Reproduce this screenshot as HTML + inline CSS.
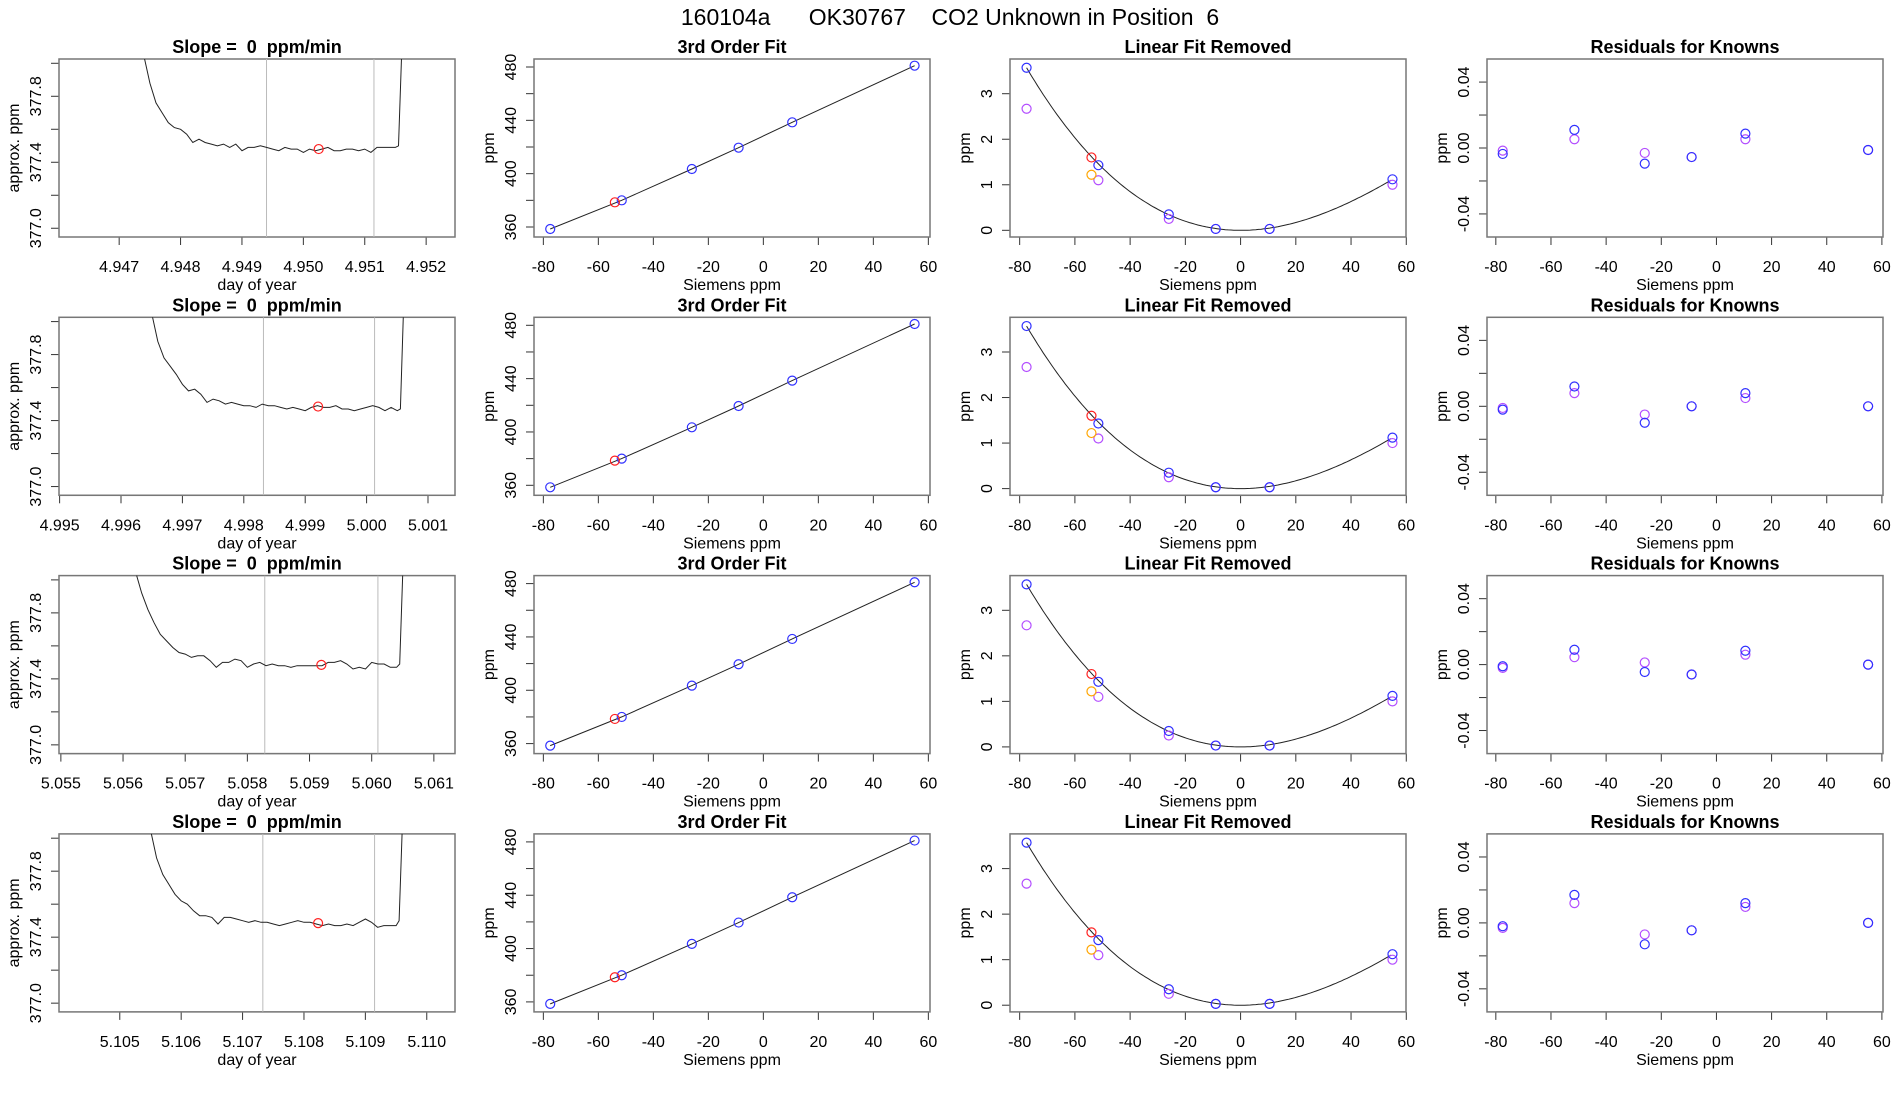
<!DOCTYPE html>
<html><head><meta charset="utf-8">
<style>
html,body{margin:0;padding:0;background:#fff;}
svg{display:block;font-family:"Liberation Sans",Arial,sans-serif;}
text{white-space:pre;}
</style></head>
<body>
<svg id="chart" width="1900" height="1100" viewBox="0 0 1900 1100" xmlns="http://www.w3.org/2000/svg">
<text x="950" y="25" font-size="23" text-anchor="middle" xml:space="preserve">160104a      OK30767    CO2 Unknown in Position  6</text>
</svg>
<script>
// ---------- data ----------
const rowTimes = [
 [4.9474,4.9475,4.9476,4.9477,4.9478,4.9479,4.9480,4.9481,4.9482,4.9483,4.9484,4.9485,4.9486,4.9487,4.9488,4.9489,4.9490,4.9491,4.9492,4.9493,4.9494,4.9495,4.9496,4.9497,4.9498,4.9499,4.9500,4.9501,4.9502,4.9503,4.9504,4.9505,4.9506,4.9507,4.9508,4.9509,4.9510,4.9511,4.9512,4.9513,4.9514,4.9515,4.95155,4.9516],
 [4.9965,4.9966,4.9967,4.9968,4.9969,4.9970,4.9971,4.9972,4.9973,4.9974,4.9975,4.9976,4.9977,4.9978,4.9979,4.9980,4.9981,4.9982,4.9983,4.9984,4.9985,4.9986,4.9987,4.9988,4.9989,4.9990,4.9991,4.9992,4.9993,4.9994,4.9995,4.9996,4.9997,4.9998,4.9999,5.0000,5.0001,5.0002,5.0003,5.0004,5.0005,5.00055,5.0006],
 [5.0562,5.0563,5.0564,5.0565,5.0566,5.0567,5.0568,5.0569,5.0570,5.0571,5.0572,5.0573,5.0574,5.0575,5.0576,5.0577,5.0578,5.0579,5.0580,5.0581,5.0582,5.0583,5.0584,5.0585,5.0586,5.0587,5.0588,5.0589,5.0590,5.0591,5.0592,5.0593,5.0594,5.0595,5.0596,5.0597,5.0598,5.0599,5.0600,5.0601,5.0602,5.0603,5.0604,5.06045,5.0605],
 [5.1055,5.1056,5.1057,5.1058,5.1059,5.1060,5.1061,5.1062,5.1063,5.1064,5.1065,5.1066,5.1067,5.1068,5.1069,5.1070,5.1071,5.1072,5.1073,5.1074,5.1075,5.1076,5.1077,5.1078,5.1079,5.1080,5.1081,5.1082,5.1083,5.1084,5.1085,5.1086,5.1087,5.1088,5.1089,5.1090,5.1091,5.1092,5.1093,5.1094,5.1095,5.10955,5.1096]
];
const rowPpm = [
 [378.05,377.88,377.76,377.70,377.64,377.61,377.60,377.57,377.52,377.54,377.52,377.51,377.50,377.51,377.49,377.51,377.47,377.49,377.49,377.50,377.49,377.48,377.47,377.49,377.48,377.48,377.46,377.48,377.47,377.48,377.49,377.47,377.47,377.48,377.48,377.47,377.48,377.46,377.49,377.49,377.49,377.49,377.50,378.05],
 [378.05,377.88,377.78,377.73,377.68,377.62,377.58,377.59,377.56,377.51,377.53,377.52,377.50,377.51,377.50,377.49,377.49,377.48,377.50,377.49,377.49,377.48,377.47,377.48,377.47,377.46,377.48,377.49,377.48,377.48,377.49,377.47,377.47,377.46,377.47,377.48,377.49,377.48,377.46,377.48,377.46,377.47,378.05],
 [378.05,377.92,377.82,377.74,377.67,377.63,377.59,377.56,377.55,377.53,377.54,377.54,377.51,377.47,377.50,377.50,377.52,377.51,377.47,377.49,377.50,377.48,377.49,377.48,377.48,377.47,377.48,377.48,377.48,377.48,377.48,377.50,377.50,377.51,377.49,377.46,377.47,377.46,377.50,377.49,377.49,377.47,377.47,377.49,378.05],
 [378.05,377.88,377.78,377.72,377.66,377.62,377.60,377.56,377.53,377.53,377.52,377.48,377.52,377.52,377.51,377.50,377.49,377.50,377.49,377.49,377.48,377.47,377.48,377.49,377.50,377.49,377.49,377.48,377.47,377.48,377.47,377.47,377.48,377.47,377.49,377.51,377.49,377.46,377.47,377.47,377.47,377.50,378.05]
];
const rowXTicks = [
 [4.947,4.948,4.949,4.950,4.951,4.952],
 [4.995,4.996,4.997,4.998,4.999,5.000,5.001],
 [5.055,5.056,5.057,5.058,5.059,5.060,5.061],
 [5.105,5.106,5.107,5.108,5.109,5.110]
];
const rowXLim = [[4.94602,4.95247],[4.99499,5.00144],[5.05497,5.06134],[5.10401,5.11046]];
const sampleTime = [4.95025,4.99921,5.05919,5.10823];
const samplePpm = [377.48,377.485,377.485,377.485];
const windowStart = [4.9494,4.99832,5.05828,5.10733];
const windowEnd = [4.95115,5.00013,5.06010,5.10915];

const siemens = [-77.5,-51.5,-26,-9,10.5,55];
const refPpm = [358.5,380,403.5,419.5,438.5,481];
const unkSiemens = -54;
const unkPpm = 378.5;
const linRemBlue = [3.57,1.43,0.35,0.03,0.03,1.12];
const linRemPurple = [2.67,1.10,0.25,0.03,0.03,1.00];
const unkLinRed = 1.60;
const unkLinOrange = 1.22;
const fitQuad = 0.000463;
const fitCubic = -1.692e-6;
const residBlue = [
 [-0.0036,0.011,-0.0095,-0.0055,0.0087,-0.0012],
 [-0.002,0.012,-0.010,0.0,0.008,0.0],
 [-0.001,0.009,-0.0045,-0.006,0.0084,0.0],
 [-0.002,0.017,-0.013,-0.0045,0.012,0.0]
];
const residPurple = [
 [-0.0016,0.0053,-0.003,-0.0055,0.0053,-0.0012],
 [-0.001,0.008,-0.005,0.0,0.005,0.0],
 [-0.002,0.0045,0.0013,-0.006,0.006,0.0],
 [-0.003,0.012,-0.007,-0.0045,0.0097,0.0]
];
const sieTicks = [-80,-60,-40,-20,0,20,40,60];
const col1YTicks = [377.0,377.2,377.4,377.6,377.8,378.0];
const col1YLabels = ["377.0","","377.4","","377.8",""];
const col2YTicks = [360,380,400,420,440,460,480];
const col2YLabels = ["360","","400","","440","","480"];
const col3YTicks = [0,1,2,3];
const col3YLabels = ["0","1","2","3"];
const col4YTicks = [-0.04,-0.02,0,0.02,0.04];
const col4YLabels = ["-0.04","","0.00","","0.04"];

// ---------- layout ----------
const NS = "http://www.w3.org/2000/svg";
const svg = document.getElementById("chart");
const colLeft = [59,534,1010,1487];
const BW = 396, BH = 178;
const rowTop = r => 59 + r*258.3;
const BLUE = "#3030ff", PURPLE = "#b34dff", RED = "#ff2020", ORANGE = "#ffa500";

function mk(tag, attrs, parent){
  const e = document.createElementNS(NS, tag);
  for (const k in attrs) e.setAttribute(k, attrs[k]);
  (parent||svg).appendChild(e);
  return e;
}
function scale(d0,d1,r0,r1){ return v => r0 + (v-d0)/(d1-d0)*(r1-r0); }

function panel(r, c, opt){
  const L = colLeft[c], T = rowTop(r);
  const g = mk("g", {});
  
  
  const sx = scale(opt.xlim[0],opt.xlim[1],L,L+BW);
  const sy = scale(opt.ylim[0],opt.ylim[1],T+BH,T);
  const clipId = "clip"+r+"_"+c;
  const cp = mk("clipPath",{id:clipId},g);
  mk("rect",{x:L,y:T,width:BW,height:BH},cp);
  const title = mk("text",{x:L+BW/2,y:T-6,"font-size":18,"font-weight":"bold","text-anchor":"middle"},g);
  title.textContent = opt.title;
  
  
  // x axis
  const xa = mk("g",{},g);
  
  
  const xt = opt.xticks;
  mk("line",{x1:sx(xt[0]),x2:sx(xt[xt.length-1]),y1:T+BH,y2:T+BH,stroke:"#333","stroke-width":1},xa);
  xt.forEach((v,i)=>{
    const x = sx(v);
    mk("line",{x1:x,x2:x,y1:T+BH,y2:T+BH+8,stroke:"#333","stroke-width":1},xa);
    const t = mk("text",{x:x,y:T+BH+35,"font-size":16,"text-anchor":"middle"},xa);
    t.textContent = opt.xlabels[i];
    
    
  });
  const xtt = mk("text",{x:L+BW/2,y:T+BH+53,"font-size":16,"text-anchor":"middle"},g);
  xtt.textContent = opt.xtitle;
  
  
  // y axis
  const ya = mk("g",{},g);
  
  
  const yt = opt.yticks;
  mk("line",{x1:L,x2:L,y1:sy(yt[0]),y2:sy(yt[yt.length-1]),stroke:"#333","stroke-width":1},ya);
  yt.forEach((v,i)=>{
    const y = sy(v);
    mk("line",{x1:L-8,x2:L,y1:y,y2:y,stroke:"#333","stroke-width":1},ya);
    if (opt.ylabels[i]) {
      const tx = L-18;
      const t = mk("text",{x:tx,y:y,"font-size":16,"text-anchor":"middle",transform:"rotate(-90 "+tx+" "+y+")"},ya);
      t.textContent = opt.ylabels[i];
      
      
    }
  });
  const ty = L-40;
  const ytt = mk("text",{x:ty,y:T+BH/2,"font-size":16,"text-anchor":"middle",transform:"rotate(-90 "+ty+" "+(T+BH/2)+")"},g);
  ytt.textContent = opt.ytitle;
  
  
  // box
  const box = mk("rect",{x:L,y:T,width:BW,height:BH,fill:"none",stroke:"#777","stroke-width":1.5},g);
  
  
  const plot = mk("g",{"clip-path":"url(#"+clipId+")"},g);
  
  
  return {sx, sy, plot};
}
function circ(p, x, y, color, name){
  const e = mk("circle",{cx:x,cy:y,r:4.5,fill:"none",stroke:color,"stroke-width":1.2},p);
  
  
}

for (let r=0;r<4;r++){
  // col 1: time series
  let P = panel(r,0,{title:"Slope =  0  ppm/min",xlim:rowXLim[r],ylim:[376.947,378.026],
    xticks:rowXTicks[r],xlabels:rowXTicks[r].map(v=>v.toFixed(3)),xtitle:"day of year",
    yticks:col1YTicks,ylabels:col1YLabels,ytitle:"approx. ppm"});
  [windowStart[r],windowEnd[r]].forEach(v=>{
    const l = mk("line",{x1:P.sx(v),x2:P.sx(v),y1:rowTop(r),y2:rowTop(r)+BH,stroke:"#bbb","stroke-width":1},P.plot);
    
    
  });
  const pts = rowTimes[r].map((t,i)=>P.sx(t).toFixed(1)+","+P.sy(rowPpm[r][i]).toFixed(1)).join(" ");
  const pl = mk("polyline",{points:pts,fill:"none",stroke:"#222","stroke-width":1},P.plot);
  
  
  circ(P.plot,P.sx(sampleTime[r]),P.sy(samplePpm[r]),RED,'sample-mean-point');

  // col 2: 3rd order fit
  P = panel(r,1,{title:"3rd Order Fit",xlim:[-83.4,60.6],ylim:[352.5,486.0],
    xticks:sieTicks,xlabels:sieTicks.map(String),xtitle:"Siemens ppm",
    yticks:col2YTicks,ylabels:col2YLabels,ytitle:"ppm"});
  const l2 = mk("polyline",{points:siemens.map((s,i)=>P.sx(s).toFixed(1)+","+P.sy(refPpm[i]).toFixed(1)).join(" "),fill:"none",stroke:"#222","stroke-width":1},P.plot);
  
  
  siemens.forEach((s,i)=>circ(P.plot,P.sx(s),P.sy(refPpm[i]),BLUE,'known-standard-point'));
  circ(P.plot,P.sx(unkSiemens),P.sy(unkPpm),RED,'unknown-point');

  // col 3: linear fit removed
  P = panel(r,2,{title:"Linear Fit Removed",xlim:[-83.5,59.9],ylim:[-0.147,3.762],
    xticks:sieTicks,xlabels:sieTicks.map(String),xtitle:"Siemens ppm",
    yticks:col3YTicks,ylabels:col3YLabels,ytitle:"ppm"});
  const cp = [];
  for (let s=siemens[0]; s<=siemens[siemens.length-1]+0.01; s+=1) cp.push(P.sx(s).toFixed(1)+","+P.sy(fitQuad*s*s+fitCubic*s*s*s).toFixed(1));
  const l3 = mk("polyline",{points:cp.join(" "),fill:"none",stroke:"#222","stroke-width":1},P.plot);
  
  
  siemens.forEach((s,i)=>circ(P.plot,P.sx(s),P.sy(linRemPurple[i]),PURPLE,'known-point-purple'));
  siemens.forEach((s,i)=>circ(P.plot,P.sx(s),P.sy(linRemBlue[i]),BLUE,'known-point-blue'));
  circ(P.plot,P.sx(unkSiemens),P.sy(unkLinRed),RED,'unknown-point-red');
  circ(P.plot,P.sx(unkSiemens),P.sy(unkLinOrange),ORANGE,'unknown-point-orange');

  // col 4: residuals
  P = panel(r,3,{title:"Residuals for Knowns",xlim:[-83.2,60.4],ylim:[-0.054,0.054],
    xticks:sieTicks,xlabels:sieTicks.map(String),xtitle:"Siemens ppm",
    yticks:col4YTicks,ylabels:col4YLabels,ytitle:"ppm"});
  siemens.forEach((s,i)=>circ(P.plot,P.sx(s),P.sy(residPurple[r][i]),PURPLE,'residual-point-purple'));
  siemens.forEach((s,i)=>circ(P.plot,P.sx(s),P.sy(residBlue[r][i]),BLUE,'residual-point-blue'));
}
</script>
</body></html>
